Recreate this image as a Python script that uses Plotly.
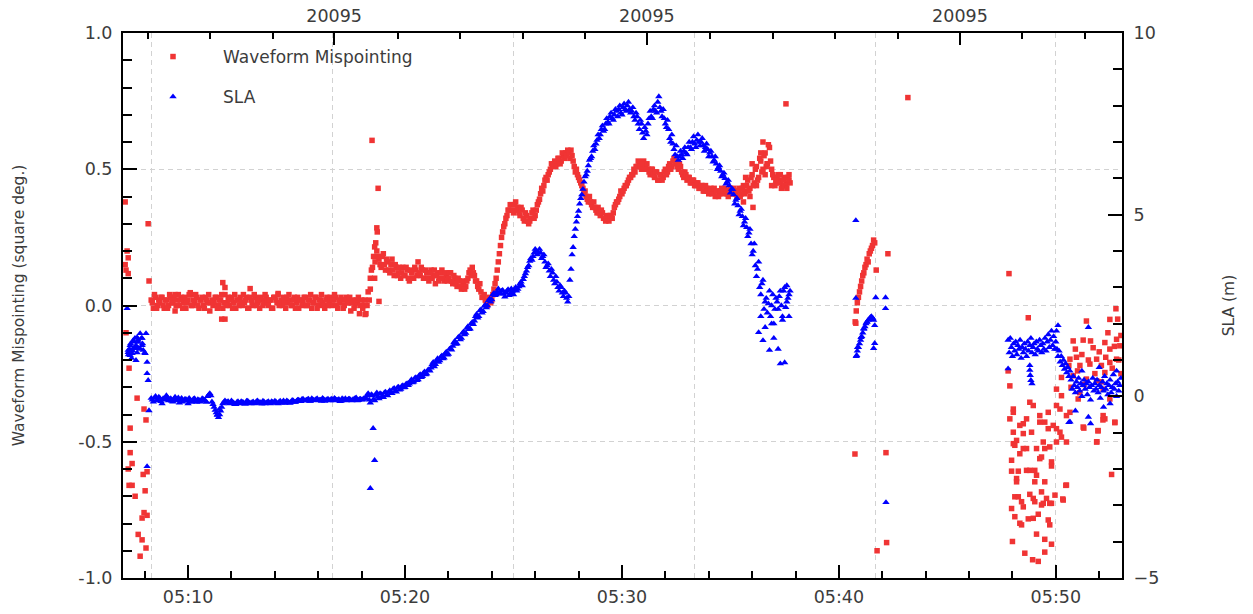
import numpy as np
import pandas as pd
import plotly.graph_objects as go

# ---------------- data (time in minutes after 05:00) ----------------
STEP = 0.1

# Waveform mispointing, continuous band 1 (05:08.3 onwards) and its interleaved samples
MIS_A_T0 = 8.3
MIS_A = [0.02, -0.01, 0.03, 0.00, 0.01, 0.03, -0.01, 0.02, 0.00, 0.03,
         0.01, -0.02, 0.02, 0.00, 0.03, 0.01, -0.01, 0.02, 0.04, 0.00,
         0.01, 0.03, -0.01, 0.02, 0.00, 0.03, 0.01, -0.02, 0.02, 0.01,
         0.03, 0.00, 0.02, -0.01, 0.04, 0.01, 0.00, 0.03, 0.01, -0.01,
         0.02, 0.03, 0.00, 0.01, 0.03, -0.01, 0.02, 0.00, 0.03, 0.01,
         -0.01, 0.02, 0.01, 0.03, 0.00, 0.02, -0.01, 0.03, 0.01, 0.00,
         0.02, 0.03, -0.01, 0.01, 0.02, 0.00, 0.03, 0.01, -0.01, 0.02,
         0.01, 0.03, 0.00, 0.02, -0.01, 0.01, 0.03, 0.00, 0.02, 0.01,
         -0.01, 0.03, 0.01, 0.00, 0.02, 0.03, -0.01, 0.01, 0.02, 0.00,
         0.03, 0.01, -0.02, 0.02, 0.00, 0.01, -0.03, 0.02, 0.00]
MIS_A2_T0 = 8.35
MIS_A2 = [0.01, 0.04, -0.01, 0.02, 0.03, 0.00, 0.02, -0.01, 0.04, 0.01,
          0.03, 0.00, 0.04, 0.02, -0.01, 0.03, 0.01, 0.04, 0.00, 0.02,
          0.04, 0.00, 0.02, 0.03, -0.01, 0.02, 0.04, 0.01, 0.00, 0.03,
          -0.01, 0.02, 0.04, 0.01, 0.00, 0.03, 0.02, -0.01, 0.04, 0.02,
          0.00, 0.01, 0.04, 0.02, -0.01, 0.03, 0.01, 0.04, 0.00, 0.02,
          0.03, 0.00, 0.04, 0.01, 0.02, -0.01, 0.03, 0.02, 0.04, 0.01,
          0.00, 0.01, 0.03, 0.04, 0.00, 0.02, -0.01, 0.03, 0.02, 0.00,
          0.03, 0.00, 0.02, 0.04, 0.01, 0.03, -0.01, 0.02, 0.04, 0.00,
          0.02, 0.00, 0.03, 0.02, 0.04, 0.00, 0.02, 0.03, -0.01, 0.02,
          0.01, 0.03, 0.01, -0.01, 0.02, 0.03, 0.00, -0.01, 0.02]

# Waveform mispointing, continuous band 2 (05:18.8 onwards) and its interleaved samples
MIS_B_T0 = 18.8
MIS_B = [0.17, 0.14, 0.19, 0.13, 0.16, 0.12, 0.17, 0.11, 0.14, 0.12,
         0.10, 0.14, 0.11, 0.13, 0.09, 0.12, 0.10, 0.13, 0.16, 0.11,
         0.13, 0.10, 0.12, 0.09, 0.13, 0.11, 0.08, 0.12, 0.10, 0.13,
         0.09, 0.11, 0.10, 0.12, 0.08, 0.10, 0.07, 0.09, 0.06, 0.08,
         0.07, 0.10, 0.13, 0.14, 0.11, 0.09, 0.06, 0.05, 0.03, 0.02,
         0.00, 0.03, 0.02, 0.06, 0.10, 0.16, 0.22, 0.27, 0.30, 0.33,
         0.35, 0.37, 0.34, 0.38, 0.36, 0.33, 0.35, 0.31, 0.33, 0.30,
         0.32, 0.35, 0.33, 0.37, 0.39, 0.43, 0.44, 0.47, 0.48, 0.50,
         0.51, 0.53, 0.52, 0.54, 0.53, 0.55, 0.56, 0.57, 0.54, 0.55,
         0.51, 0.50, 0.47, 0.45, 0.43, 0.42, 0.39, 0.40, 0.37, 0.38,
         0.35, 0.36, 0.33, 0.34, 0.32, 0.33, 0.31, 0.33, 0.34, 0.37,
         0.38, 0.40, 0.41, 0.43, 0.44, 0.46, 0.47, 0.48, 0.49, 0.51,
         0.52, 0.50, 0.53, 0.51, 0.50, 0.48, 0.50, 0.47, 0.49, 0.46,
         0.48, 0.47, 0.50, 0.49, 0.52, 0.51, 0.54, 0.52, 0.50, 0.51,
         0.48, 0.49, 0.46, 0.47, 0.45, 0.46, 0.44, 0.45, 0.43, 0.44,
         0.42, 0.43, 0.41, 0.43, 0.42, 0.40, 0.42, 0.41, 0.43, 0.41,
         0.42, 0.40, 0.43, 0.41, 0.42, 0.40, 0.43, 0.41, 0.44, 0.42,
         0.46, 0.43, 0.48, 0.45, 0.51, 0.47, 0.53, 0.50, 0.56, 0.52,
         0.58, 0.50, 0.47, 0.45, 0.48, 0.46, 0.44, 0.47, 0.45, 0.48]
MIS_B2_T0 = 18.85
MIS_B2 = [0.15, 0.18, 0.15, 0.17, 0.13, 0.15, 0.13, 0.15, 0.11, 0.14,
          0.12, 0.11, 0.14, 0.10, 0.13, 0.10, 0.14, 0.11, 0.12, 0.14,
          0.10, 0.13, 0.10, 0.12, 0.10, 0.13, 0.11, 0.09, 0.12, 0.10,
          0.12, 0.09, 0.12, 0.09, 0.11, 0.08, 0.10, 0.07, 0.09, 0.06,
          0.09, 0.12, 0.11, 0.12, 0.09, 0.07, 0.08, 0.03, 0.04, 0.01,
          0.02, 0.01, 0.04, 0.08, 0.13, 0.19, 0.25, 0.29, 0.32, 0.35,
          0.37, 0.35, 0.37, 0.35, 0.34, 0.36, 0.32, 0.34, 0.31, 0.31,
          0.34, 0.32, 0.35, 0.38, 0.41, 0.42, 0.46, 0.46, 0.49, 0.52,
          0.52, 0.51, 0.54, 0.52, 0.56, 0.54, 0.55, 0.56, 0.57, 0.53,
          0.49, 0.48, 0.46, 0.44, 0.41, 0.40, 0.38, 0.38, 0.36, 0.36,
          0.34, 0.34, 0.35, 0.32, 0.31, 0.32, 0.33, 0.32, 0.36, 0.38,
          0.39, 0.42, 0.42, 0.44, 0.45, 0.47, 0.48, 0.50, 0.51, 0.53,
          0.51, 0.52, 0.50, 0.52, 0.49, 0.50, 0.48, 0.49, 0.46, 0.48,
          0.46, 0.49, 0.48, 0.51, 0.50, 0.53, 0.53, 0.51, 0.52, 0.49,
          0.47, 0.48, 0.47, 0.45, 0.46, 0.44, 0.45, 0.43, 0.44, 0.42,
          0.44, 0.42, 0.42, 0.41, 0.43, 0.42, 0.40, 0.42, 0.42, 0.43,
          0.41, 0.42, 0.41, 0.43, 0.41, 0.42, 0.40, 0.43, 0.41, 0.44,
          0.42, 0.47, 0.44, 0.50, 0.46, 0.54, 0.49, 0.55, 0.51, 0.59,
          0.53, 0.48, 0.44, 0.47, 0.45, 0.43, 0.46, 0.44, 0.47, 0.45]

# Waveform mispointing, scattered samples
MIS_PT_T = [7.10, 8.16, 7.19, 7.24, 7.10, 7.14, 7.24, 8.20, 7.14, 7.28,
            7.65, 7.97, 8.06, 7.33, 7.33, 7.42, 7.24, 7.93, 8.11, 7.28,
            7.42, 8.02, 7.56, 7.88, 8.11, 7.97, 7.70, 7.88, 8.06, 7.79,
            11.60, 11.55, 11.70, 12.86, 10.10, 9.40, 14.15, 18.16, 11.70,
            18.20, 18.25, 18.30, 18.35, 18.40, 18.45, 18.50, 18.55, 18.60, 18.65,
            18.70, 18.72, 18.48, 18.76, 18.80, 18.60, 18.62, 18.40, 18.70, 18.75,
            37.56, 36.04, 35.60, 35.70, 35.90, 36.00, 36.20, 36.40, 36.50, 36.60,
            36.70, 36.90, 37.10, 37.30, 37.50, 37.70, 37.60,
            40.75, 40.78, 40.80, 40.85, 40.90, 40.95, 41.00, 41.05, 41.10, 41.15,
            41.20, 41.25, 41.30, 41.35, 41.40, 41.45, 41.50, 41.55, 41.60, 41.65,
            41.72, 42.26, 40.74, 42.17, 43.18, 42.20, 41.76,
            47.84, 48.73, 51.41, 52.49, 52.77, 47.80, 47.88,
            50.80, 51.26, 51.72, 52.26, 52.49, 52.80, 52.95,
            50.65, 50.95, 51.11, 51.57, 51.88, 52.10, 52.49, 52.80,
            50.26, 50.80, 51.41, 51.88, 52.26,
            50.03, 50.26, 51.03, 52.49, 52.18,
            48.80, 48.96, 49.26, 49.65, 50.03, 50.19, 50.49, 50.65, 52.18, 52.26,
            52.72, 48.04, 48.04, 47.88,
            48.50, 48.34, 48.65, 48.88, 49.26, 49.49, 49.65, 49.88, 50.03, 50.19,
            50.26, 51.26, 51.95, 48.04, 48.50,
            48.04, 48.11, 48.19, 48.50, 48.65, 49.11, 49.42, 49.49, 49.72, 50.03,
            50.49, 51.88, 49.34,
            47.96, 48.34, 49.26, 49.80, 49.80, 47.96, 48.27, 48.65, 48.80, 49.03,
            49.11, 52.57,
            48.19, 48.19, 49.03, 49.49, 50.49, 48.11, 48.27, 48.80, 48.96, 49.34,
            49.42, 49.57, 49.80, 49.96, 50.34, 48.42,
            47.96, 48.50, 49.03, 49.34, 49.72, 48.11, 48.34, 48.73, 48.96, 49.19,
            49.65, 49.72, 48.42,
            49.11, 49.49, 49.80, 48.00, 48.57, 48.93, 49.19, 49.49,
            52.72, 51.89, 51.94, 51.29, 52.17, 50.46, 50.32,
            50.60, 50.90, 51.00, 51.20, 51.30, 51.50, 51.60, 51.80, 52.00, 52.10,
            52.30, 52.40, 52.60, 52.70, 52.90, 53.00, 51.10, 50.70, 52.85, 53.00]
MIS_PT_V = [0.38, 0.30, 0.20, 0.175, 0.15, 0.13, 0.117, 0.09, -0.10, -0.23,
            -0.34, -0.38, -0.42, -0.45, -0.54, -0.58, -0.60, -0.62, -0.61, -0.66,
            -0.66, -0.68, -0.70, -0.78, -0.77, -0.76, -0.84, -0.86, -0.89, -0.92,
            0.084, -0.05, -0.05, 0.062, 0.047, 0.04, 0.044, -0.033, 0.066,
            -0.03, 0.00, 0.05, 0.02, 0.10, 0.13, 0.14, 0.18, 0.215, 0.23,
            0.285, 0.27, 0.606, 0.43, 0.015, 0.10, 0.16, 0.06, 0.20, 0.18,
            0.74, 0.36, 0.38, 0.47, 0.40, 0.52, 0.44, 0.56, 0.60, 0.48,
            0.52, 0.44, 0.46, 0.48, 0.44, 0.46, 0.43,
            -0.06, -0.065, -0.02, 0.01, 0.03, 0.05, 0.07, 0.09, 0.11, 0.12,
            0.14, 0.15, 0.17, 0.16, 0.19, 0.20, 0.21, 0.22, 0.24, 0.23,
            0.13, 0.19, -0.545, -0.54, 0.763, -0.87, -0.90,
            0.117, -0.045, -0.057, -0.051, -0.012, -0.24, -0.295,
            -0.13, -0.127, -0.155, -0.136, -0.16, -0.124, -0.148,
            -0.197, -0.19, -0.22, -0.215, -0.197, -0.22, -0.209, -0.197,
            -0.264, -0.258, -0.27, -0.276, -0.246,
            -0.307, -0.331, -0.343, -0.343, -0.307,
            -0.355, -0.367, -0.404, -0.392, -0.367, -0.38, -0.404, -0.392, -0.404, -0.416,
            -0.428, -0.38, -0.392, -0.416,
            -0.434, -0.44, -0.416, -0.465, -0.428, -0.428, -0.452, -0.44, -0.452, -0.465,
            -0.483, -0.446, -0.459, -0.465, -0.47,
            -0.507, -0.513, -0.495, -0.525, -0.525, -0.525, -0.501, -0.525, -0.519, -0.501,
            -0.501, -0.501, -0.556,
            -0.568, -0.544, -0.562, -0.574, -0.589, -0.608, -0.608, -0.605, -0.605, -0.605,
            -0.623, -0.62,
            -0.635, -0.647, -0.647, -0.647, -0.659, -0.702, -0.702, -0.693, -0.708, -0.684,
            -0.726, -0.708, -0.726, -0.696, -0.714, -0.72,
            -0.745, -0.739, -0.72, -0.732, -0.726, -0.775, -0.799, -0.783, -0.781, -0.766,
            -0.787, -0.805, -0.805,
            -0.839, -0.858, -0.876, -0.866, -0.909, -0.933, -0.939, -0.905,
            -0.43, -0.50, -0.46, -0.45, -0.42, -0.66, -0.71,
            -0.22, -0.16, -0.24, -0.18, -0.29, -0.20, -0.13, -0.25, -0.17, -0.28,
            -0.19, -0.10, -0.23, -0.15, -0.20, -0.11, -0.32, -0.30, -0.05, -0.25]

# SLA, continuous band 1 (05:08.3 onwards) and interleaved samples
SLA_A_T0 = 8.3
SLA_A = [-0.05, -0.15, 0.0, -0.1, -0.05, -0.2, -0.08, 0.02, -0.12, -0.06,
         -0.15, -0.02, -0.1, -0.18, -0.05, -0.12, -0.08, -0.2, -0.1, -0.14,
         -0.06, -0.16, -0.1, -0.13, -0.08, -0.12,
         0.0, 0.08, -0.15, -0.3, -0.45, -0.58, -0.4, -0.2, -0.12,
         -0.15, -0.2, -0.12, -0.18, -0.22, -0.14, -0.19, -0.16, -0.21, -0.13,
         -0.18, -0.2, -0.15, -0.19, -0.12, -0.17, -0.21, -0.15, -0.18, -0.14,
         -0.2, -0.16, -0.13, -0.19, -0.15, -0.18, -0.12, -0.17, -0.14, -0.19,
         -0.11, -0.16, -0.13,
         -0.1, -0.14, -0.07, -0.12, -0.09, -0.13, -0.06, -0.11, -0.08, -0.12,
         -0.1, -0.05, -0.13, -0.09, -0.11, -0.07, -0.12, -0.08, -0.1, -0.14,
         -0.06, -0.1, -0.12, -0.07, -0.11, -0.09, -0.05, -0.12, -0.08, -0.1,
         -0.06]
SLA_A2_T0 = 8.35
SLA_A2 = [-0.1, -0.04, -0.12, -0.02, -0.14, -0.06, -0.1, -0.03, -0.09, -0.13,
          -0.07, -0.12, -0.04, -0.1, -0.15, -0.08, -0.12, -0.05, -0.16, -0.07,
          -0.12, -0.09, -0.15, -0.06, -0.11, -0.16, 0.04, 0.02, -0.22, -0.38,
          -0.52, -0.5, -0.3, -0.16, -0.17, -0.14, -0.19, -0.17, -0.22, -0.16,
          -0.2, -0.14, -0.17, -0.21, -0.13, -0.18, -0.16, -0.2, -0.14, -0.19,
          -0.17, -0.13, -0.2, -0.16, -0.19, -0.14, -0.18, -0.15, -0.2, -0.13,
          -0.16, -0.19, -0.12, -0.17, -0.15, -0.12, -0.16, -0.1, -0.13, -0.08,
          -0.12, -0.1, -0.07, -0.13, -0.09, -0.11, -0.06, -0.1, -0.13, -0.08,
          -0.11, -0.07, -0.12, -0.09, -0.05, -0.11, -0.08, -0.13, -0.09, -0.06,
          -0.1, -0.07, -0.12, -0.08, -0.04, -0.11, -0.07, -0.09, -0.05]

# SLA, continuous band 2 (05:18.2 onwards) and interleaved samples
SLA_B_T0 = 18.2
SLA_B = [-0.05, 0.08, -0.18, 0.02, -0.12, 0.1, -0.06, 0.06, -0.03, 0.12,
         0.02, 0.16, 0.08, 0.22, 0.12, 0.26, 0.2, 0.3, 0.25, 0.35,
         0.34, 0.46, 0.4, 0.52, 0.46, 0.6, 0.55, 0.68, 0.62, 0.74,
         0.78, 0.94, 0.88, 1.04, 0.98, 1.12, 1.06, 1.22, 1.16, 1.32,
         1.38, 1.52, 1.45, 1.65, 1.6, 1.78, 1.74, 1.92, 1.86, 2.04,
         2.08, 2.26, 2.2, 2.38, 2.34, 2.52, 2.5, 2.68, 2.66, 2.84,
         2.8, 2.96, 2.82, 2.92, 2.74, 2.9, 2.78, 2.96, 2.8, 3.0,
         2.95, 3.1, 3.05, 3.3, 3.45, 3.6, 3.8, 3.85, 4.05, 3.9,
         4.05, 3.8, 3.9, 3.55, 3.65, 3.3, 3.4, 3.1, 3.15, 2.9,
         3.0, 2.75, 2.85, 2.6, 3.2, 3.9, 4.4, 4.8, 5.1, 5.45,
         5.7, 6.05, 6.2, 6.5, 6.6, 6.9, 6.95, 7.2, 7.2, 7.45,
         7.35, 7.65, 7.5, 7.8, 7.6, 7.9, 7.7, 8.0, 7.75, 8.05,
         7.85, 8.1, 7.8, 7.95, 7.6, 7.7, 7.35, 7.5, 7.1, 7.3,
         7.5, 7.85, 7.65, 8.0, 7.8, 8.25, 7.85, 7.9, 7.5, 7.6,
         7.1, 7.2, 6.8, 6.9, 6.5, 6.75, 6.55, 6.85, 6.65, 7.0,
         6.8, 7.15, 6.85, 7.2, 6.9, 7.1, 6.75, 6.95, 6.6, 6.75,
         6.45, 6.6, 6.25, 6.35, 6.05, 6.15, 5.85, 5.95, 5.6, 5.7,
         5.3, 5.45, 5.0, 5.15, 4.7, 4.9, 4.4, 4.6, 3.9, 4.2,
         3.3, 3.7, 2.8, 3.2, 2.6, 2.3, 2.9, 2.5, 2.0, 2.7,
         2.4, 2.9, 2.2, 3.0, 2.6, 2.8]
SLA_B2_T0 = 18.25
SLA_B2 = [0.02, -0.1, 0.05, -0.08, 0.04, -0.02, 0.08, 0.0, 0.1, 0.04,
          0.12, 0.08, 0.2, 0.14, 0.24, 0.18, 0.28, 0.24, 0.34, 0.3,
          0.42, 0.38, 0.5, 0.44, 0.57, 0.52, 0.64, 0.6, 0.72, 0.7,
          0.88, 0.82, 0.98, 0.94, 1.08, 1.04, 1.18, 1.14, 1.3, 1.28,
          1.48, 1.44, 1.62, 1.56, 1.74, 1.7, 1.88, 1.84, 2.0, 1.98,
          2.2, 2.16, 2.36, 2.3, 2.48, 2.44, 2.64, 2.6, 2.8, 2.78,
          2.88, 2.86, 2.9, 2.82, 2.86, 2.94, 2.82, 2.88, 2.92, 2.9,
          3.02, 3.15, 3.22, 3.38, 3.55, 3.72, 3.75, 3.95, 4.0, 3.95,
          3.95, 3.85, 3.7, 3.6, 3.45, 3.5, 3.2, 3.3, 3.0, 3.05,
          2.85, 2.9, 2.7, 2.75, 3.5, 4.1, 4.6, 4.95, 5.3, 5.55,
          5.9, 6.1, 6.35, 6.55, 6.75, 6.8, 7.05, 7.1, 7.35, 7.3,
          7.5, 7.55, 7.7, 7.65, 7.75, 7.85, 7.9, 7.8, 7.95, 7.9,
          8.0, 7.9, 7.85, 7.7, 7.8, 7.5, 7.6, 7.25, 7.4, 7.2,
          7.65, 7.7, 7.9, 7.85, 8.1, 7.95, 7.7, 7.65, 7.4, 7.35,
          7.0, 6.95, 6.65, 6.6, 6.6, 6.65, 6.75, 6.7, 6.85, 6.85,
          7.0, 6.95, 7.05, 7.0, 7.0, 6.9, 6.85, 6.8, 6.7, 6.6,
          6.5, 6.4, 6.3, 6.2, 6.1, 6.0, 5.9, 5.8, 5.7, 5.55,
          5.4, 5.25, 5.1, 4.95, 4.8, 4.65, 4.5, 4.2, 4.0, 3.6,
          3.5, 3.0, 3.1, 2.4, 2.7, 2.55, 2.2, 2.8, 2.4, 2.6,
          2.75, 2.5, 2.9, 2.45, 2.7, 2.9]

# SLA, continuous band 3 (05:47.8 onwards, every 0.05 min)
SLA_C_T0 = 47.8
SLA_C_STEP = 0.05
SLA_C = [1.55, 1.2, 1.6, 1.35, 1.1, 1.45, 1.25, 1.5, 1.15, 1.4,
         1.3, 1.55, 1.05, 1.35, 1.2, 1.45, 1.3, 1.1, 1.5, 1.25,
         1.4, 1.6, 1.2, 1.35, 1.45, 1.15, 1.5, 1.3, 1.25, 1.55,
         1.4, 1.2, 1.45, 1.3, 1.6, 1.25, 1.5, 1.7, 1.35, 1.55,
         1.8, 1.4, 1.65, 1.3, 1.5,
         1.3, 1.1, 1.25, 0.95, 1.1, 0.85, 1.0, 0.75, 0.9, 0.65,
         0.8, 0.55, 0.7,
         0.45, 0.2, 0.55, 0.3, 0.1, 0.4, 0.25, 0.5, 0.15, 0.35,
         0.0, 0.3, 0.45, 0.2, 0.35, 0.05, 0.4, 0.25, -0.1, 0.3,
         0.5, 0.15, 0.35, 0.2, 0.45, 0.1, 0.3, -0.05, 0.25, 0.4,
         0.15, 0.55, 0.2, 0.35, 0.05, 0.3, 0.45, 0.1, 0.25, 0.6,
         0.2, 0.35, 0.0, 0.4, 0.15, 0.3, 0.5]

# SLA, scattered samples
SLA_PT_T = [7.19, 7.24, 7.33, 7.42, 7.47, 7.56, 7.65, 7.70, 7.79, 7.88,
            7.93, 8.06, 8.02, 8.11, 7.60, 7.33, 7.24, 7.47, 7.70, 7.88,
            8.11, 8.16, 8.20, 8.11,
            7.30, 7.35, 7.45, 7.50, 7.60, 7.70, 7.80, 7.90, 8.00, 7.55,
            7.25, 7.65, 7.85, 7.40,
            11.35, 11.45, 18.53, 18.60, 18.40,
            36.30, 36.50, 36.80, 37.30, 37.50, 36.90, 37.00, 36.40, 37.60, 37.40,
            37.20, 36.60, 37.70,
            40.78, 40.78, 40.82, 40.86, 41.02, 41.15, 41.28, 41.47, 41.56, 41.65,
            41.70, 42.15, 42.15, 41.65, 41.60, 42.17,
            40.80, 40.85, 40.90, 40.95, 41.00, 41.05, 41.10, 41.15, 41.20, 41.25,
            41.30, 41.35, 41.40, 41.45, 41.50, 41.55, 41.60,
            47.80, 48.80, 48.80, 48.82, 48.85, 48.90, 50.10, 50.03, 50.65, 51.50,
            51.60, 51.50, 52.20, 52.50, 50.90, 51.20, 52.00, 52.80, 50.60]
SLA_PT_V = [2.42, 1.27, 1.40, 1.18, 1.54, 1.35, 1.62, 1.49, 1.73, 1.40,
            1.27, 1.73, 1.18, 0.94, 0.99, 1.13, 1.21, 1.32, 1.32, 1.60,
            0.63, 0.44, -0.39, -1.93,
            1.30, 1.45, 1.25, 1.50, 1.40, 1.55, 1.30, 1.45, 1.20, 1.60,
            1.15, 1.20, 1.60, 1.05,
            -0.50, -0.35, -0.88, -1.76, -2.53,
            1.76, 1.54, 1.27, 0.90, 0.93, 2.00, 1.60, 2.20, 3.05, 2.10,
            1.30, 1.90, 2.20,
            4.84, 2.70, 1.13, 1.35, 1.62, 1.87, 2.04, 2.17, 2.15, 1.95,
            2.72, 2.72, 2.42, 1.46, 1.32, -2.92,
            1.10, 1.25, 1.35, 1.45, 1.55, 1.65, 1.75, 1.85, 1.92, 2.00,
            2.05, 2.10, 2.12, 2.17, 2.20, 2.15, 2.10,
            0.76, 0.85, 0.72, 0.58, 0.44, 0.35, 1.95, 1.80, -0.70, -0.57,
            -0.75, 1.90, -0.30, -0.20, -0.40, 0.70, 0.80, 0.70, -0.72]

# top-axis (pass number) ticks, grid positions, x range (minutes after 05:00)
TOP_MAJOR_T = [16.73, 31.15, 45.58]
TOP_MAJOR_LABELS = ["20095", "20095", "20095"]
TOP_MINOR_T = [8.16, 11.01, 13.92, 19.68, 22.53, 25.44, 28.29, 34.06, 36.96,
               39.82, 42.72, 48.43, 51.34]
GRID_T = [8.333, 16.667, 25.0, 33.333, 41.667, 50.0]
X_RANGE_MIN = [7.0, 53.05]

# ---------------- build ----------------
BASE = pd.Timestamp("2000-01-01 05:00:00")


def to_time(minutes):
    return BASE + pd.to_timedelta(np.asarray(minutes, dtype=float), unit="m")


def band_times(t0, vals, step):
    return [t0 + i * step for i in range(len(vals))]


mis_t = (band_times(MIS_A_T0, MIS_A, STEP) + band_times(MIS_A2_T0, MIS_A2, STEP)
         + band_times(MIS_B_T0, MIS_B, STEP) + band_times(MIS_B2_T0, MIS_B2, STEP)
         + MIS_PT_T)
mis_v = MIS_A + MIS_A2 + MIS_B + MIS_B2 + MIS_PT_V
sla_t = (band_times(SLA_A_T0, SLA_A, STEP) + band_times(SLA_A2_T0, SLA_A2, STEP)
         + band_times(SLA_B_T0, SLA_B, STEP) + band_times(SLA_B2_T0, SLA_B2, STEP)
         + band_times(SLA_C_T0, SLA_C, SLA_C_STEP) + SLA_PT_T)
sla_v = SLA_A + SLA_A2 + SLA_B + SLA_B2 + SLA_C + SLA_PT_V

RED = "#f03434"
BLUE = "#0000ff"
FONT = "DejaVu Sans"
TXT = "#3c3c3c"
GRID = "#d2d2d2"
GRID_DASH = "5px,4px"

fig = go.Figure()
fig.add_trace(go.Scatter(
    x=to_time(mis_t), y=mis_v, mode="markers", name="Waveform Mispointing",
    marker=dict(symbol="square", size=5.5, color=RED, line=dict(width=0)),
    legendgroup="a", xaxis="x", yaxis="y"))
fig.add_trace(go.Scatter(
    x=to_time(sla_t), y=sla_v, mode="markers", name="SLA",
    marker=dict(symbol="triangle-up", size=6.5, color=BLUE, line=dict(width=0)),
    legendgroup="b", xaxis="x", yaxis="y2"))
# empty traces so that the top axis and the grid axis get drawn
fig.add_trace(go.Scatter(x=[], y=[], xaxis="x2", yaxis="y", showlegend=False,
                         hoverinfo="skip"))
fig.add_trace(go.Scatter(x=[], y=[], xaxis="x3", yaxis="y", showlegend=False,
                         hoverinfo="skip"))

tick_font = dict(family=FONT, size=17.5, color=TXT)
axis_common = dict(showline=True, linecolor="black", linewidth=2,
                   ticks="inside", tickcolor="black", tickwidth=2,
                   tickfont=tick_font, zeroline=False)

r0, r1 = to_time(X_RANGE_MIN)
fig.update_layout(
    width=1253, height=614,
    margin=dict(l=123, r=131, t=33, b=36, autoexpand=False),
    paper_bgcolor="white", plot_bgcolor="white",
    font=dict(family=FONT, color=TXT),
    showlegend=True,
    legend=dict(x=0.0, y=0.989, xanchor="left", yanchor="top",
                bgcolor="rgba(0,0,0,0)", font=dict(family=FONT, size=17, color=TXT),
                traceorder="grouped", tracegroupgap=15, itemwidth=90),
    xaxis=dict(type="date", range=[r0, r1], tickformat="%H:%M",
               tick0=BASE, dtick=600000, ticklen=13,
               minor=dict(dtick=120000, ticks="inside", ticklen=7, tickwidth=2,
                          tickcolor="black", showgrid=False),
               showgrid=False, ticklabelstandoff=2, **axis_common),
    xaxis2=dict(overlaying="x", side="top", anchor="y", type="linear",
                range=X_RANGE_MIN, tickmode="array", tickvals=TOP_MAJOR_T,
                ticktext=TOP_MAJOR_LABELS, ticklen=12,
                minor=dict(tickmode="array", tickvals=TOP_MINOR_T, ticks="inside",
                           ticklen=6, tickwidth=2, tickcolor="black", showgrid=False),
                showgrid=False, ticklabelstandoff=2, **axis_common),
    xaxis3=dict(overlaying="x", side="bottom", anchor="y", type="linear",
                range=X_RANGE_MIN, tickmode="array", tickvals=GRID_T,
                showticklabels=False, ticks="", showline=False, zeroline=False,
                showgrid=True, gridcolor=GRID, griddash=GRID_DASH, gridwidth=1),
    yaxis=dict(range=[-1, 1], tickmode="array", tickvals=[-1, -0.5, 0, 0.5, 1],
               ticktext=["-1.0", "-0.5", "0.0", "0.5", "1.0"], ticklen=14,
               minor=dict(dtick=0.1, tick0=0, ticks="inside", ticklen=9, tickwidth=2,
                          tickcolor="black", showgrid=False),
               showgrid=True, gridcolor=GRID, griddash=GRID_DASH, gridwidth=1,
               ticklabelstandoff=5,
               title=dict(text="Waveform Mispointing (square deg.)", standoff=50,
                          font=dict(family=FONT, size=15.5, color=TXT)),
               **axis_common),
    yaxis2=dict(overlaying="y", side="right", anchor="x", range=[-5, 10],
                tickmode="array", tickvals=[-5, 0, 5, 10], ticklen=14,
                minor=dict(dtick=1, tick0=0, ticks="inside", ticklen=9, tickwidth=2,
                           tickcolor="black", showgrid=False),
                showgrid=False, ticklabelstandoff=6,
                title=dict(text="SLA (m)", standoff=65,
                           font=dict(family=FONT, size=15.5, color=TXT)),
                **axis_common),
)

# remove the page's default body margin so the figure fills the window exactly
fig.write_html("out.html",
               config={"displayModeBar": False},
               post_script="document.body.style.margin='0px';"
                           "document.body.style.overflow='hidden';")
